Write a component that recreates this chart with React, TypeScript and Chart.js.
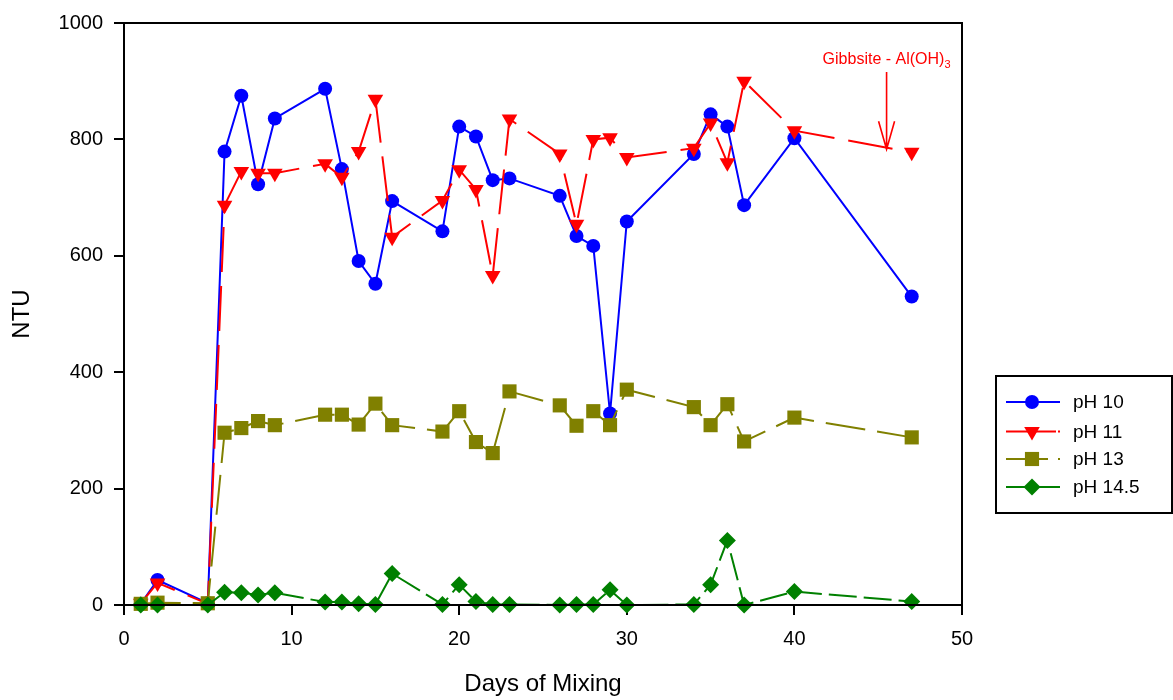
import React, { useEffect, useRef } from 'react';
import { Chart, registerables } from 'chart.js';

Chart.register(...registerables);

// ---- data ----
const days = [1, 2, 5, 6, 7, 8, 9, 12, 13, 14, 15, 16, 19, 20, 21, 22, 23, 26, 27, 28, 29, 30, 34, 35, 36, 37, 40, 47];
const ph10 = [2, 43, 3, 779, 875, 723, 836, 887, 749, 591, 552, 694, 642, 822, 805, 730, 733, 703, 634, 617, 329, 659, 775, 843, 822, 687, 802, 530];
const ph11 = [3, 38, 2, 687, 745, 742, 742, 758, 735, 779, 869, 632, 695, 748, 714, 566, 835, 775, 654, 800, 803, 769, 785, 828, 760, 900, 815, 778];
const ph13 = [2, 4, 3, 296, 304, 316, 309, 327, 327, 310, 346, 309, 298, 333, 280, 261, 367, 343, 308, 333, 309, 370, 340, 309, 345, 281, 322, 288];
const ph145 = [0, 0, 0, 22, 21, 17, 21, 5, 5, 2, 1, 54, 1, 35, 6, 1, 1, 0, 1, 1, 26, 0, 1, 35, 111, 0, 23, 6];
const seriesLabels = ['pH 10', 'pH 11', 'pH 13', 'pH 14.5'];
const xTicks = [0, 10, 20, 30, 40, 50];
const yTicks = [0, 200, 400, 600, 800, 1000];
const xTitle = 'Days of Mixing';
const yTitle = 'NTU';
const annotationText = 'Gibbsite - Al(OH)';
const annotationSub = '3';
const annotationDay = 45.5;
const annotationTextValue = 930;
const annotationTopValue = 916;
const annotationTipValue = 783;

const FONT = "'Liberation Sans', Arial, Helvetica, sans-serif";

const styles = [
  { color: '#0000ff', marker: 'circle', radius: 7, dash: [] as number[], legendDash: [] as number[] },
  { color: '#ff0000', marker: 'triangleDown', radius: 9, dash: [45, 14], legendDash: [50, 2, 2, 100] },
  { color: '#808000', marker: 'rect', radius: 10, dash: [40, 12], legendDash: [42, 10, 2, 100] },
  { color: '#008000', marker: 'diamond', radius: 8.5, dash: [28, 7], legendDash: [] as number[] },
];

function drawMarker(ctx: CanvasRenderingContext2D, style: string, x: number, y: number, r: number, color: string) {
  ctx.save();
  ctx.fillStyle = color;
  ctx.beginPath();
  if (style === 'circle') {
    ctx.arc(x, y, r, 0, Math.PI * 2);
  } else if (style === 'triangleDown') {
    const w = (r * Math.sqrt(3)) / 2;
    ctx.moveTo(x, y + r);
    ctx.lineTo(x - w, y - r / 2);
    ctx.lineTo(x + w, y - r / 2);
  } else if (style === 'rect') {
    const s = r * Math.SQRT1_2;
    ctx.rect(x - s, y - s, 2 * s, 2 * s);
  } else {
    ctx.moveTo(x - r, y);
    ctx.lineTo(x, y - r);
    ctx.lineTo(x + r, y);
    ctx.lineTo(x, y + r);
  }
  ctx.closePath();
  ctx.fill();
  ctx.restore();
}

const pointStyleOf = (m: string) => (m === 'triangleDown' ? 'triangle' : m === 'diamond' ? 'rectRot' : m);

export default function App() {
  const ref = useRef<HTMLCanvasElement>(null);

  useEffect(() => {
    const canvas = ref.current;
    if (!canvas) return;
    const seriesValues = [ph10, ph11, ph13, ph145];

    const datasets = seriesValues.map((vals, i) => {
      const s = styles[i];
      return {
        label: seriesLabels[i],
        data: days.map((d, j) => ({ x: d, y: vals[j] })),
        borderColor: s.color,
        backgroundColor: s.color,
        borderWidth: 2,
        borderDash: s.dash,
        pointStyle: pointStyleOf(s.marker),
        pointRotation: s.marker === 'triangleDown' ? 180 : 0,
        pointRadius: s.radius,
        pointBorderWidth: 0,
        pointBackgroundColor: s.color,
        pointBorderColor: s.color,
        tension: 0,
        clip: false,
        order: 3 - i,
      };
    });

    const overlay = {
      id: 'overlay',
      afterDraw(chart: any) {
        const { ctx, chartArea: a, scales } = chart;
        ctx.save();
        // plot frame
        ctx.strokeStyle = '#000';
        ctx.lineWidth = 2;
        ctx.setLineDash([]);
        ctx.strokeRect(a.left, a.top, a.right - a.left, a.bottom - a.top);

        // annotation
        const ax = scales.x.getPixelForValue(annotationDay);
        const tY = scales.y.getPixelForValue(annotationTextValue);
        const topY = scales.y.getPixelForValue(annotationTopValue);
        const tipY = scales.y.getPixelForValue(annotationTipValue);
        ctx.fillStyle = '#ff0000';
        ctx.strokeStyle = '#ff0000';
        ctx.font = `16px ${FONT}`;
        ctx.textBaseline = 'alphabetic';
        const mainW = ctx.measureText(annotationText).width;
        ctx.font = `11px ${FONT}`;
        const subW = ctx.measureText(annotationSub).width;
        const startX = ax - (mainW + subW) / 2;
        ctx.font = `16px ${FONT}`;
        ctx.textAlign = 'left';
        ctx.fillText(annotationText, startX, tY);
        ctx.font = `11px ${FONT}`;
        ctx.fillText(annotationSub, startX + mainW, tY + 4);
        ctx.lineWidth = 1.6;
        ctx.beginPath();
        ctx.moveTo(ax, topY);
        ctx.lineTo(ax, tipY);
        ctx.moveTo(ax - 8, tipY - 28);
        ctx.lineTo(ax, tipY);
        ctx.lineTo(ax + 8, tipY - 28);
        ctx.stroke();

        // legend
        const lx = 996, ly = 376, lw = 176, lh = 137;
        ctx.strokeStyle = '#000';
        ctx.lineWidth = 2;
        ctx.strokeRect(lx, ly, lw, lh);
        const rows = [402, 431.5, 459, 487];
        ctx.font = `19px ${FONT}`;
        ctx.textBaseline = 'middle';
        ctx.textAlign = 'left';
        seriesLabels.forEach((lab, i) => {
          const s = styles[i];
          const y = rows[i];
          ctx.strokeStyle = s.color;
          ctx.lineWidth = 2;
          ctx.setLineDash(s.legendDash);
          ctx.beginPath();
          ctx.moveTo(1006, y);
          ctx.lineTo(1060, y);
          ctx.stroke();
          ctx.setLineDash([]);
          drawMarker(ctx, s.marker, 1032, y, s.radius, s.color);
          ctx.fillStyle = '#000';
          ctx.fillText(lab, 1073, y + 1);
        });
        ctx.restore();
      },
    };

    const chart = new Chart(canvas, {
      type: 'line',
      data: { datasets: datasets as any },
      options: {
        responsive: false,
        animation: false,
        devicePixelRatio: 1,
        layout: { padding: { top: 21, right: 211, left: 0, bottom: 0 } },
        plugins: { legend: { display: false }, tooltip: { enabled: false } },
        scales: {
          x: {
            type: 'linear',
            min: 0,
            max: 50,
            afterFit: (scale: any) => { scale.height = 95; },
            afterBuildTicks: (scale: any) => { scale.ticks = xTicks.map((v) => ({ value: v })); },
            ticks: { color: '#000', font: { family: FONT, size: 20 }, padding: 12, maxRotation: 0, callback: (v: any) => String(v) },
            grid: { drawOnChartArea: false, drawTicks: true, tickLength: 10, color: '#000', lineWidth: 2 },
            border: { display: true, color: '#000', width: 2 },
            title: { display: true, text: xTitle, color: '#000', font: { family: FONT, size: 24 }, padding: { top: 0, bottom: 1 } },
          },
          y: {
            type: 'linear',
            min: 0,
            max: 1000,
            afterFit: (scale: any) => { scale.width = 124; },
            afterBuildTicks: (scale: any) => { scale.ticks = yTicks.map((v) => ({ value: v })); },
            ticks: { color: '#000', font: { family: FONT, size: 20 }, padding: 11, callback: (v: any) => String(v) },
            grid: { drawOnChartArea: false, drawTicks: true, tickLength: 10, color: '#000', lineWidth: 2 },
            border: { display: true, color: '#000', width: 2 },
            title: { display: true, text: yTitle, color: '#000', font: { family: FONT, size: 24 }, padding: { top: 8, bottom: 0 } },
          },
        },
      },
      plugins: [overlay],
    });
    return () => chart.destroy();
  }, []);

  return (
    <div style={{ position: 'fixed', left: 0, top: 0, width: 1173, height: 700, background: '#fff' }}>
      <canvas ref={ref} width={1173} height={700} style={{ display: 'block', width: 1173, height: 700 }} />
    </div>
  );
}
